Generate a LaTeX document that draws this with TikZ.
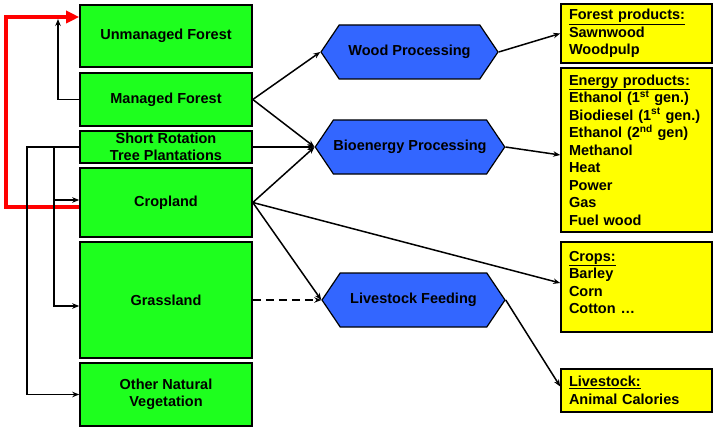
\documentclass[tikz,border=0pt]{standalone}
\usepackage{fontspec}
\setmainfont{Liberation Sans}
\usepackage{tikz}
\usetikzlibrary{shapes.symbols,arrows.meta}
\definecolor{landgreen}{RGB}{30,255,30}
\definecolor{procblue}{RGB}{51,102,255}
\definecolor{prodyellow}{RGB}{255,255,0}
\tikzstyle{land} = [draw, line width=1.6pt, fill=landgreen, minimum width=172pt, align=center, inner sep=0pt]
\tikzstyle{proc} = [draw, line width=1.2pt, fill=procblue, shape=signal, signal to=west and east, signal pointer angle=112, minimum height=54pt, inner sep=0pt]
\tikzstyle{prod} = [draw, line width=1.6pt, fill=prodyellow, minimum width=151pt, text width=135pt, align=left, inner sep=0pt]
\tikzstyle{flow} = [line width=1.5pt, -{Stealth[length=7pt,width=5.5pt]}]

\begin{document}
\begin{tikzpicture}[x=1pt, y=-1pt, font=\fontsize{14.5}{17.5}\selectfont\bfseries]
				\useasboundingbox (0,0) rectangle (713,428);
				% land use
				\node[land, minimum height=62pt] (uf) at (166, 36) {Unmanaged Forest};
				\node[land, minimum height=53pt] (mf) at (166, 99.5) {Managed Forest};
				\node[land, minimum height=32pt] (srt) at (166, 147) {Short Rotation\\Tree Plantations};
				\node[land, minimum height=69pt] (crop) at (166, 202.5) {Cropland};
				\node[land, minimum height=116pt] (grass) at (166, 300) {Grassland};
				\node[land, minimum height=63pt] (onv) at (166, 394.5) {Other Natural\\Vegetation};
				% processing
				\node[proc, minimum width=177pt] (wp) at (409.5, 52) {Wood Processing};
				\node[proc, minimum width=176pt] (bp) at (410, 147) {Bioenergy Processing};
				\node[proc, minimum width=183pt] (lf) at (413.5, 300) {Livestock Feeding};
				% products
				\node[prod, minimum height=59pt] (fp) at (636.5, 33.5) {\underline{Forest products:}\\Sawnwood\\Woodpulp};
				\node[prod, minimum height=164pt] (ep) at (636.5, 150) {\underline{Energy products:}\\Ethanol (1\textsuperscript{st} gen.)\\Biodiesel (1\textsuperscript{st} gen.)\\Ethanol (2\textsuperscript{nd} gen)\\Methanol\\Heat\\Power\\Gas\\Fuel wood};
				\node[prod, minimum height=90pt] (crops) at (636.5, 287) {\parbox[c][72pt][t]{135pt}{\underline{Crops:}\\Barley\\Corn\\Cotton \ldots}};
				\node[prod, minimum height=43pt] (ls) at (636.5, 390.5) {\underline{Livestock:}\\Animal Calories};
				\coordinate (mfup) at (58, 19);
				% flows
				\draw[flow] (mf.east) -- (wp.west);
				\draw[flow] (mf.east) -- (bp.west);
				\draw[flow] (srt.east) -- (bp.west);
				\draw[flow] (crop.east) -- (bp.west);
				\draw[flow] (crop.east) -- ([yshift=4pt]crops.west);
				\draw[flow] (crop.east) -- (lf.west);
				\draw[flow, dash pattern=on 8pt off 5pt] (grass.east) -- (lf.west);
				\draw[flow] (wp.east) -- (fp.west);
				\draw[flow] (bp.east) -- ([yshift=-5pt]ep.west);
				\draw[flow] (lf.east) -- ([yshift=4pt]ls.west);
				% conversions
				\draw[red, line width=4pt, -{Triangle[length=13pt,width=12pt]}] ([yshift=-4.5pt]crop.west) -- ++(-73,0) |- ([yshift=19pt]uf.west);
				\draw[flow] (mf.west) -| (mfup);
				\draw[flow] (srt.west) -- ++(-52,0) |- (onv.west);
				\draw[flow] ([xshift=-25pt]srt.west) |- ([yshift=2.5pt]crop.west);
				\draw[flow] ([xshift=-25pt]srt.west) |- ([yshift=-6pt]grass.west);
		\end{tikzpicture}
\end{document}
